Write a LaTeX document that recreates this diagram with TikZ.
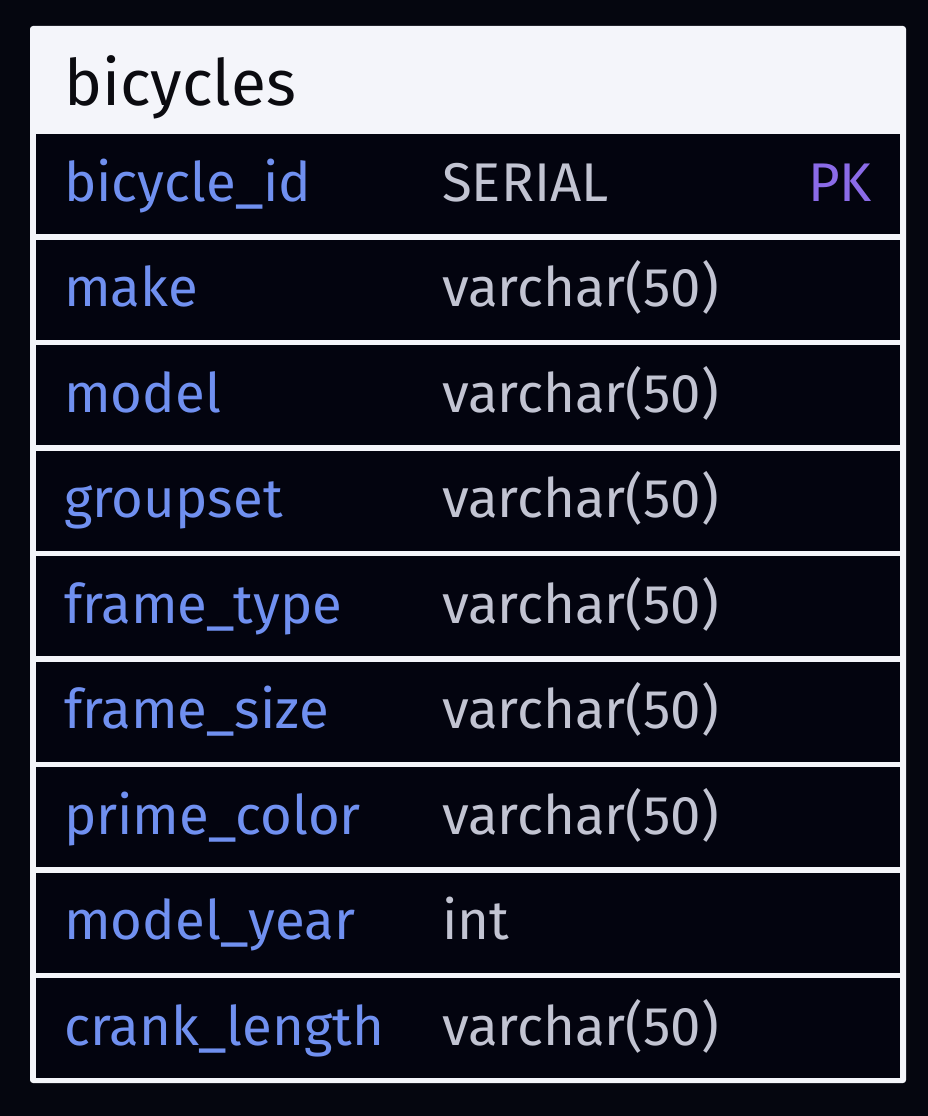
\documentclass[tikz,border=0pt]{standalone}
\usepackage{fontspec}
\setmainfont{Fira Sans}
\usetikzlibrary{positioning}
\definecolor{bg}{HTML}{05060F}
\definecolor{paper}{HTML}{F4F5FA}
\definecolor{rowbg}{HTML}{03040F}
\definecolor{titleblack}{HTML}{0B0B10}
\definecolor{fieldblue}{HTML}{7090F0}
\definecolor{typegray}{HTML}{C2C4D2}
\definecolor{pkpurple}{HTML}{8B6BE8}
\tikzstyle{table}=[x=1pt, y=-1pt, node distance=5.5pt, font=\fontsize{54.5}{62}\selectfont]
\tikzstyle{row}=[fill=rowbg, minimum width=864pt, minimum height=100pt, inner sep=0pt, outer sep=0pt]
\tikzstyle{field}=[text=fieldblue, anchor=base west, inner sep=0pt]
\tikzstyle{type}=[text=typegray, anchor=base west, inner sep=0pt]
\tikzstyle{key}=[text=pkpurple, anchor=base east, inner sep=0pt]

\begin{document}
\begin{tikzpicture}[table]
  \fill[bg] (0,0) rectangle (928,1116);
  \useasboundingbox (0,0) rectangle (928,1116);
  \fill[paper, rounded corners=3pt] (30,26) rectangle (906,1083);
  \node[anchor=base west, inner sep=0pt, text=titleblack, font=\fontsize{64}{72}\selectfont] (title) at (64,105) {bicycles};
  % rows
  \node[row, anchor=north west] (r0) at (36,134) {};
  \node[row, below=of r0] (r1) {};
  \node[row, below=of r1] (r2) {};
  \node[row, below=of r2] (r3) {};
  \node[row, below=of r3] (r4) {};
  \node[row, below=of r4] (r5) {};
  \node[row, below=of r5] (r6) {};
  \node[row, below=of r6] (r7) {};
  \node[row, below=of r7] (r8) {};
  % fields
  \node[field] (f0) at ([xshift=28pt, yshift=-17pt]r0.west) {bicycle\_id};
  \node[field] (f1) at ([xshift=28pt, yshift=-17pt]r1.west) {make};
  \node[field] (f2) at ([xshift=28pt, yshift=-17pt]r2.west) {model};
  \node[field] (f3) at ([xshift=28pt, yshift=-17pt]r3.west) {groupset};
  \node[field] (f4) at ([xshift=28pt, yshift=-17pt]r4.west) {frame\_type};
  \node[field] (f5) at ([xshift=28pt, yshift=-17pt]r5.west) {frame\_size};
  \node[field] (f6) at ([xshift=28pt, yshift=-17pt]r6.west) {prime\_color};
  \node[field] (f7) at ([xshift=28pt, yshift=-17pt]r7.west) {model\_year};
  \node[field] (f8) at ([xshift=28pt, yshift=-17pt]r8.west) {crank\_length};
  % types
  \node[type] (t0) at ([xshift=406pt, yshift=-17pt]r0.west) {SERIAL};
  \node[type] (t1) at ([xshift=406pt, yshift=-17pt]r1.west) {varchar(50)};
  \node[type] (t2) at ([xshift=406pt, yshift=-17pt]r2.west) {varchar(50)};
  \node[type] (t3) at ([xshift=406pt, yshift=-17pt]r3.west) {varchar(50)};
  \node[type] (t4) at ([xshift=406pt, yshift=-17pt]r4.west) {varchar(50)};
  \node[type] (t5) at ([xshift=406pt, yshift=-17pt]r5.west) {varchar(50)};
  \node[type] (t6) at ([xshift=406pt, yshift=-17pt]r6.west) {varchar(50)};
  \node[type] (t7) at ([xshift=406pt, yshift=-17pt]r7.west) {int};
  \node[type] (t8) at ([xshift=406pt, yshift=-17pt]r8.west) {varchar(50)};
  % key
  \node[key] (k0) at ([xshift=-28pt, yshift=-17pt]r0.east) {PK};
\end{tikzpicture}
\end{document}
